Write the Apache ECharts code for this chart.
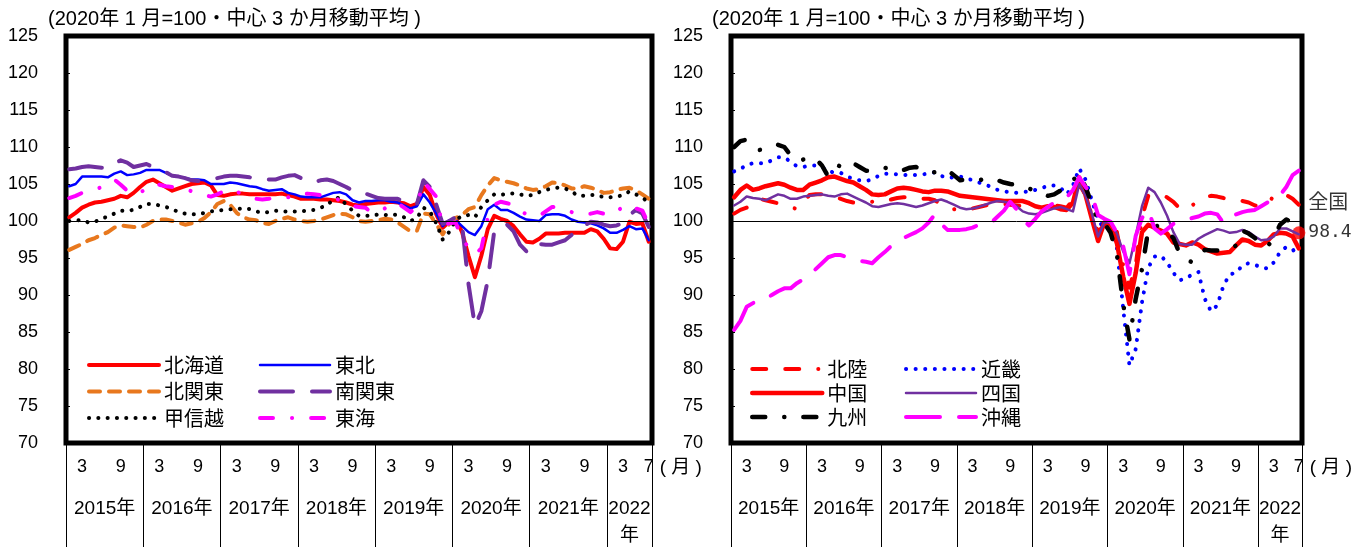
<!DOCTYPE html>
<html>
<head>
<meta charset="utf-8">
<script src="https://cdn.jsdelivr.net/npm/echarts@6/dist/echarts.min.js"></script>
<style>
  body { margin: 0; background: #fff; }
  #main { width: 1363px; height: 547px; }
</style>
</head>
<body>
<div id="main"></div>
<script>
// 月次カテゴリ 2015/1 - 2022/7
const years = [2015, 2016, 2017, 2018, 2019, 2020, 2021, 2022];
const lastMonth = 7;
const months = [];
years.forEach(y => {
  for (let m = 1; m <= 12; m++) {
    if (y === 2022 && m > lastMonth) break;
    months.push(y + '-' + m);
  }
});
const monthTicks = [3, 9];
const yearLabels = ['2015年', '2016年', '2017年', '2018年', '2019年', '2020年', '2021年', '2022\n年'];
const titleText = '(2020年 1 月=100・中心 3 か月移動平均 )';

// 左パネル
const hokkaido = [
  100.5, 101.1, 101.8, 102.2, 102.5, 102.6, 102.8, 103.0, 103.4, 103.2, 103.8, 104.6,
  105.3, 105.6, 105.1, 104.6, 104.1, 104.4, 104.7, 105.0, 105.1, 105.2, 104.8, 103.5,
  103.4, 103.6, 103.7, 103.7, 103.6, 103.6, 103.6, 103.6, 103.6, 103.7, 103.5, 103.3,
  103.0, 103.0, 103.0, 102.9, 102.9, 102.8, 102.7, 102.5, 102.2, 102.1, 102.3, 102.4,
  102.5, 102.5, 102.6, 102.5, 102.4, 102.0, 102.3, 104.6, 103.5, 100.9, 99.1, 99.9,
  100.4, 98.5, 95.3, 92.4, 95.3, 98.9, 100.7, 100.3, 100.0, 99.3, 98.2, 97.2,
  97.1, 97.6, 98.3, 98.3, 98.3, 98.4, 98.4, 98.4, 98.4, 98.9, 98.6, 97.6,
  96.3, 96.2, 97.2, 99.9, 99.6, 99.7, 97.2
];
const tohoku = [
  104.7, 105.0, 106.0, 106.0, 106.0, 106.0, 105.9, 106.4, 106.7, 106.2, 106.3, 106.5,
  106.9, 106.9, 106.9, 106.5, 106.1, 106.0, 105.8, 105.6, 105.6, 105.5, 105.0, 105.0,
  105.0, 105.2, 105.1, 104.9, 104.7, 104.6, 104.3, 104.1, 104.2, 104.3, 103.8, 103.6,
  103.3, 103.2, 103.2, 103.2, 103.5, 103.8, 103.9, 103.6, 102.8, 102.5, 102.7, 102.7,
  102.8, 102.8, 102.6, 102.5, 102.1, 101.7, 102.0, 103.6, 102.5, 101.0, 99.3, 100.1,
  100.1, 99.3, 98.5, 98.1, 99.3, 101.6, 102.2, 101.5, 101.5, 101.1, 100.6, 100.2,
  100.1, 100.0, 100.8, 100.9, 100.9, 100.7, 100.2, 99.9, 99.8, 99.7, 99.4, 99.0,
  98.4, 98.4, 98.8, 99.3, 98.9, 99.0, 97.4
];
const kitakanto = [
  96.1, 96.5, 96.9, 97.4, 97.7, 98.1, 98.5, 99.1, 99.4, 99.3, 99.2, 99.1,
  99.5, 100.0, 100.2, 100.2, 100.0, 99.8, 99.5, 99.7, 99.9, 100.4, 101.2, 102.3,
  102.7, 102.2, 101.1, 100.5, 100.2, 100.1, 99.7, 99.6, 100.0, 100.3, 100.5, 100.2,
  100.0, 99.9, 100.0, 100.2, 100.5, 100.8, 101.0, 100.9, 100.5, 100.0, 99.9, 100.0,
  100.1, 100.3, 100.2, 99.8, 99.2, 98.6, 98.7, 101.0, 100.9, 99.6, 98.2, 99.6,
  100.4, 100.8, 101.6, 101.9, 103.5, 104.8, 105.8, 105.5, 105.3, 105.1, 104.8, 104.4,
  104.2, 104.3, 104.7, 105.2, 105.1, 104.8, 104.4, 104.4, 104.7, 104.5, 104.2, 103.8,
  103.9, 104.2, 104.4, 104.5, 104.1, 103.6, 103.0
];
const minamikanto = [
  107.0, 107.1, 107.3, 107.4, 107.3, 107.2, 107.2, 107.8, 108.2, 107.9, 107.3, 107.5,
  107.7, 107.3, 106.9, 106.6, 106.1, 106.0, 105.8, 105.5, 105.4, 105.5, 105.6, 105.8,
  106.0, 106.1, 106.1, 106.0, 105.9, 105.8, 105.7, 105.6, 105.6, 105.9, 106.1, 106.2,
  105.8, 105.4, 105.2, 105.5, 105.6, 105.4, 105.0, 104.6, 104.1, 103.7, 103.7, 103.4,
  103.1, 103.0, 103.0, 103.0, 102.6, 102.3, 102.3, 105.5, 104.6, 102.2, 99.6, 100.0,
  100.5, 99.5, 91.5, 85.8, 87.8, 92.0, 98.6, 98.6, 99.5, 98.6, 96.8, 95.9,
  97.0, 96.9, 96.8, 96.8, 97.1, 97.4, 98.1, 98.8, 99.4, 99.9, 99.8, 99.5,
  99.3, 99.4, 99.7, 100.8, 101.5, 101.0, 99.2
];
const koshinetsu = [
  100.0, 100.1, 100.1, 99.8, 99.9, 100.3, 100.6, 101.0, 101.4, 101.4, 101.5, 101.9,
  102.3, 102.3, 102.1, 101.9, 101.6, 101.2, 101.0, 100.9, 100.9, 101.1, 101.3, 101.4,
  101.5, 101.6, 101.6, 101.7, 101.6, 101.3, 101.1, 101.2, 101.4, 101.3, 101.3, 101.3,
  101.3, 101.4, 101.5, 101.8, 102.1, 102.9, 103.2, 102.2, 101.4, 100.7, 100.7, 100.7,
  100.9, 100.8, 100.9, 100.8, 100.5, 100.0, 100.4, 101.8, 101.3, 99.7, 97.5, 98.5,
  100.1, 100.7, 100.8, 100.5, 101.9, 102.8, 103.6, 103.5, 103.7, 103.7, 103.6, 103.4,
  103.5, 103.9, 104.2, 104.4, 104.5, 104.4, 104.0, 103.4, 103.4, 103.5, 103.5, 103.2,
  103.2, 103.3, 103.5, 104.0, 103.6, 103.1, 102.6
];
const tokai = [
  103.1, 103.4, 103.8, 104.0, 104.2, 104.6, 105.2, 105.6, 104.9, 104.1, 103.6, 103.8,
  104.4, 105.0, 104.9, 104.7, 104.6, 104.5, 104.4, 104.0, 103.7, 103.5, 103.3, 103.6,
  104.0, 104.3, 104.0, 103.5, 103.2, 103.0, 102.9, 103.0, 103.2, 103.3, 103.2, 103.2,
  103.5, 103.7, 103.6, 103.5, 103.5, 103.2, 102.8, 102.5, 102.0, 101.9, 101.8, 101.1,
  101.3, 101.7, 102.4, 102.4, 101.8, 101.2, 102.0, 105.3, 104.3, 103.3, 99.2, 99.7,
  99.8, 97.7, 96.4, 95.5, 96.3, 100.4, 102.2, 102.6, 102.4, 102.2, 101.4, 100.9,
  100.7, 100.7, 101.3, 101.9, 101.8, 101.5, 101.2, 100.9, 100.9, 101.0, 101.2, 101.0,
  100.8, 101.2, 102.0, 102.2, 101.7, 101.4, 99.5
];

// 右パネル
const hokuriku = [
  101.0, 101.5, 101.8, 102.4, 103.0, 102.8, 102.6, 102.4, 102.2, 101.9, 101.6, 102.5,
  103.5, 103.6, 103.6, 103.4, 103.2, 103.0, 102.7, 102.5, 102.5, 102.5, 102.6, 102.8,
  102.7, 102.9, 103.1, 103.2, 103.2, 103.1, 103.0, 103.0, 102.8, 102.2, 101.9, 101.6,
  101.4, 101.5, 101.7, 101.9, 102.1, 102.2, 102.3, 102.3, 102.2, 102.1, 102.0, 101.9,
  101.8, 101.9, 102.0, 102.1, 102.0, 101.8, 102.8, 105.0, 103.5, 100.8, 98.5, 99.5,
  100.0, 98.5, 94.0, 91.0, 94.0, 100.5, 103.4, 103.6, 103.6, 103.2, 102.6, 101.7,
  101.5, 102.1, 102.8, 103.2, 103.4, 103.3, 103.1, 102.9, 102.8, 102.7, 102.5, 102.1,
  102.0, 102.3, 103.4, 103.8, 103.5, 103.0, 102.2
];
const kinki = [
  106.7, 107.0, 107.6, 107.8, 107.8, 107.8, 108.2, 108.6, 108.6, 108.0, 107.4, 107.3,
  107.5, 107.5, 107.3, 106.8, 106.5, 106.5, 106.0, 105.7, 105.5, 105.4, 105.6, 106.1,
  106.4, 106.4, 106.3, 106.2, 106.3, 106.2, 106.3, 106.4, 106.6, 106.1, 105.8, 105.9,
  106.0, 105.8, 105.5, 105.2, 104.9, 104.6, 104.2, 104.0, 103.9, 103.8, 103.9, 104.0,
  104.2, 104.4, 104.8, 104.8, 104.5, 103.6, 104.8, 107.1, 105.6, 102.8, 100.2, 98.9,
  99.5, 96.3, 88.2, 80.5, 82.7, 89.0, 93.7, 95.2, 95.3, 94.4, 93.0, 92.0,
  92.2, 92.8, 93.1, 89.5, 87.8, 88.6, 91.3, 92.8, 93.0, 94.0, 94.3, 94.1,
  93.7, 93.6, 94.4, 95.8, 96.5, 96.2, 95.0
];
const chugoku = [
  103.2, 104.2, 104.8, 104.2, 104.4, 104.7, 104.9, 105.1, 104.9, 104.5, 104.2, 104.2,
  104.9, 105.2, 105.5, 105.9, 106.0, 105.7, 105.4, 105.2, 104.7, 104.2, 103.6, 103.5,
  103.6, 104.0, 104.4, 104.5, 104.4, 104.2, 104.0, 103.9, 104.1, 104.1, 104.0, 103.7,
  103.4, 103.3, 103.2, 103.1, 103.0, 102.9, 102.8, 102.7, 102.7, 102.7, 102.7, 102.4,
  102.0, 101.8, 102.0, 101.9, 101.6, 101.5, 102.5, 105.9, 103.5, 100.3, 97.3, 99.8,
  99.5, 97.0, 92.5, 88.8, 93.0, 98.5, 99.5, 99.1, 98.7, 98.3, 97.1, 96.9,
  96.7, 97.1, 96.8, 96.2, 95.9, 95.6, 95.7, 95.8, 96.7, 97.5, 97.3, 96.8,
  96.7, 97.3, 98.2, 98.4, 98.3, 97.9, 96.3
];
const shikoku = [
  102.1, 102.6, 103.3, 103.1, 103.0, 102.8, 103.2, 103.6, 103.4, 103.0, 103.0, 103.3,
  103.4, 103.5, 103.6, 103.4, 103.3, 103.6, 103.7, 103.3, 102.9, 102.5, 102.0, 101.9,
  102.1, 102.3, 102.4, 102.3, 102.1, 101.9, 102.1, 102.4, 102.7, 102.9, 102.6, 102.2,
  101.8, 101.6, 101.7, 101.9, 102.2, 102.5, 102.7, 102.6, 102.4, 102.0, 101.3, 101.0,
  100.9, 101.1, 101.4, 101.7, 101.9, 101.6, 101.3, 105.0, 103.4, 101.0, 97.9, 99.8,
  99.8, 98.3, 95.9, 94.3, 98.0, 102.0, 104.5, 103.9, 102.5, 100.7, 98.5, 96.9,
  96.8, 96.8, 97.6, 98.1, 98.5, 98.9, 98.7, 98.4, 98.5, 98.8, 98.5, 97.9,
  97.4, 97.5, 97.9, 99.0, 99.0, 98.6, 98.2
];
const kyushu = [
  110.0, 110.8, 111.0, 110.2, 109.6, 109.7, 109.9, 110.3, 110.0, 108.9, 108.1, 108.3,
  108.7, 108.4, 107.5, 106.0, 106.5, 107.8, 108.1, 107.8, 107.3, 106.8, 106.8, 107.0,
  107.2, 107.0, 106.7, 106.9, 107.2, 107.3, 106.9, 106.5, 106.6, 106.9, 106.9, 106.2,
  105.5, 105.6, 105.5, 105.5, 105.7, 105.8, 105.5, 105.2, 105.0, 104.9, 104.7, 104.4,
  104.0, 103.9, 103.4, 103.6, 104.1, 104.8, 105.5, 106.4, 104.6, 102.3, 99.9, 99.7,
  98.4, 95.5, 88.8, 84.0, 89.5, 93.5, 98.8, 99.4, 99.2, 98.5, 97.7, 95.6,
  94.9, 94.4, 95.2, 96.1, 96.0, 96.0, 96.1, 96.2, 96.7, 98.7, 98.3, 97.7,
  96.7, 96.5, 97.8, 99.5, 100.2, 99.8, 98.5
];
const okinawa = [
  85.3, 86.5, 88.4, 88.9, 89.3, 89.5, 90.0, 90.5, 90.9, 90.9, 91.6, 92.1,
  92.7, 93.5, 94.3, 95.1, 95.4, 95.4, 95.1, 94.9, 94.6, 94.5, 94.3, 95.1,
  95.8, 96.6, 97.3, 97.7, 98.1, 98.5, 99.0, 99.8, 100.9, 99.6, 98.8, 98.8,
  98.8, 98.9, 99.1, 99.5, 99.6, 99.8, 100.6, 101.4, 102.6, 101.6, 100.2, 99.4,
  100.3, 101.3, 101.9, 102.5, 102.8, 103.2, 104.2, 105.9, 104.6, 103.6, 100.8, 100.3,
  99.9, 98.4, 96.6, 92.8, 98.0, 100.4, 101.5, 99.0, 98.3, 98.9, 99.6, 100.0,
  100.2, 100.4, 100.6, 101.0, 101.1, 100.9, 99.7, 100.3, 100.9, 101.2, 101.4, 101.5,
  102.0, 102.5, 102.9, 103.5, 104.6, 106.2, 106.8
];
const zenkokuLast = 98.4;

const FONT = "'Liberation Sans', 'Noto Sans CJK JP', sans-serif";
const CJK = "'Noto Sans CJK JP', sans-serif";

const chart = echarts.init(document.getElementById('main'));

// 年ラベルの位置（各年の月数の中央）
const yearPos = {};
let start = 0;
years.forEach((y, k) => {
  const n = months.filter(m => m.indexOf(y + '-') === 0).length;
  yearPos[start + n / 2] = yearLabels[k];
  start += n;
});

function monthAxis(g) {
  return {
    type: 'category', gridIndex: g, data: months, boundaryGap: true, position: 'bottom',
    axisLine: { show: false },
    axisTick: {
      show: true, length: 104,
      interval: (i) => i % 12 === 0,
      lineStyle: { color: '#000', width: 1 }
    },
    axisLabel: {
      interval: (i, v) => {
        const m = Number(v.split('-')[1]);
        return monthTicks.indexOf(m) >= 0 || i === months.length - 1;
      },
      formatter: (v) => v.split('-')[1],
      color: '#000', fontSize: 18, fontFamily: FONT, margin: 15, lineHeight: 18
    },
    name: '( 月 )', nameLocation: 'end', nameGap: 2,
    nameTextStyle: {
      color: '#000', fontSize: 19, fontFamily: FONT,
      align: 'left', verticalAlign: 'top', lineHeight: 50
    }
  };
}
function yearAxis(g) {
  return {
    type: 'value', gridIndex: g, min: 0, max: months.length, interval: 0.5, position: 'bottom',
    axisLine: { show: false }, axisTick: { show: false }, splitLine: { show: false },
    axisLabel: {
      formatter: (v) => yearPos[Math.round(v * 2) / 2] || '',
      color: '#000', fontSize: 19, fontFamily: FONT, lineHeight: 27, margin: 52
    }
  };
}
function valueAxis(g) {
  return {
    type: 'value', gridIndex: g, min: 70, max: 125, interval: 5,
    axisLine: { show: false },
    axisTick: { show: true, inside: true, length: 4, lineStyle: { color: '#000', width: 1 } },
    splitLine: { show: false },
    axisLabel: { color: '#000', fontSize: 18, fontFamily: FONT, margin: 28 }
  };
}
function line(name, data, color, width, dash, g) {
  return {
    name: name, type: 'line', data: data, xAxisIndex: g * 2, yAxisIndex: g,
    symbol: 'none', smooth: false,
    lineStyle: { color: color, width: width, type: dash || 'solid', cap: 'round', join: 'round' },
    itemStyle: { color: color },
    emphasis: { disabled: true }
  };
}
const baseLine = {
  silent: true, symbol: ['none', 'none'], label: { show: false },
  lineStyle: { color: '#000', width: 1, type: 'solid' },
  emphasis: { disabled: true },
  data: [{ yAxis: 100 }]
};

const series = [
  Object.assign(line('北海道', hokkaido, '#FF0000', 4, null, 0), { markLine: baseLine }),
  line('東北', tohoku, '#0000FF', 2.5, null, 0),
  line('北関東', kitakanto, '#E8781E', 4, [11, 9], 0),
  line('南関東', minamikanto, '#7030A0', 4, [33, 19], 0),
  line('甲信越', koshinetsu, '#000000', 4, [0.1, 9.2], 0),
  line('東海', tokai, '#FF00FF', 4, [13, 19, 0.1, 19], 0),

  Object.assign(line('北陸', hokuriku, '#FF0000', 4, [14, 19, 14, 19, 0.1, 19], 1), { markLine: baseLine }),
  line('近畿', kinki, '#0000FF', 4, [0.1, 9.5], 1),
  line('中国', chugoku, '#FF0000', 4.5, null, 1),
  line('四国', shikoku, '#7030A0', 2.5, null, 1),
  line('九州', kyushu, '#000000', 4.5, [13, 19, 0.1, 19], 1),
  line('沖縄', okinawa, '#FF00FF', 4, [34, 19], 1),
  {
    name: '全国', type: 'scatter', xAxisIndex: 2, yAxisIndex: 1,
    data: [[months.length - 1, zenkokuLast]],
    symbolSize: 13, itemStyle: { color: '#FF0000' },
    label: {
      show: true, position: 'right', distance: 3, offset: [0, -16],
      formatter: '{a|全国}\n{b|' + zenkokuLast + '}',
      rich: {
        a: { fontSize: 20, fontFamily: CJK, color: '#000', lineHeight: 30 },
        b: { fontSize: 18, fontFamily: "'DejaVu Sans Mono', monospace", color: '#000', lineHeight: 30 }
      }
    },
    emphasis: { disabled: true }
  }
];

const legendCommon = {
  orient: 'vertical', itemWidth: 70, itemHeight: 14, padding: 0, selectedMode: false,
  textStyle: { fontSize: 20, color: '#000', fontFamily: CJK, lineHeight: 20 },
  lineStyle: { width: 'inherit' },
  itemStyle: { opacity: 0, borderWidth: 0 }
};

chart.setOption({
  animation: false,
  textStyle: { fontFamily: FONT },
  title: [
    { text: titleText, left: 48, top: 9, padding: 0,
      textStyle: { fontSize: 20, fontWeight: 'normal', color: '#000', fontFamily: FONT } },
    { text: titleText, left: 712, top: 9, padding: 0,
      textStyle: { fontSize: 20, fontWeight: 'normal', color: '#000', fontFamily: FONT } }
  ],
  legend: [
    Object.assign({}, legendCommon, { left: 87, top: 355, itemGap: 6.5, data: ['北海道', '北関東', '甲信越'] }),
    Object.assign({}, legendCommon, { left: 258, top: 355, itemGap: 6.5, data: ['東北', '南関東', '東海'] }),
    Object.assign({}, legendCommon, { left: 750, top: 359, itemGap: 4, data: ['北陸', '中国', '九州'] }),
    Object.assign({}, legendCommon, { left: 904, top: 359, itemGap: 4, data: ['近畿', '四国', '沖縄'] })
  ],
  grid: [
    { left: 66, top: 36, width: 586, height: 407, show: true, borderColor: '#000', borderWidth: 5,
      backgroundColor: 'transparent', outerBoundsMode: 'none', containLabel: false },
    { left: 731, top: 36, width: 571, height: 407, show: true, borderColor: '#000', borderWidth: 5,
      backgroundColor: 'transparent', outerBoundsMode: 'none', containLabel: false }
  ],
  xAxis: [monthAxis(0), yearAxis(0), monthAxis(1), yearAxis(1)],
  yAxis: [valueAxis(0), valueAxis(1)],
  series: series
});
</script>
</body>
</html>
